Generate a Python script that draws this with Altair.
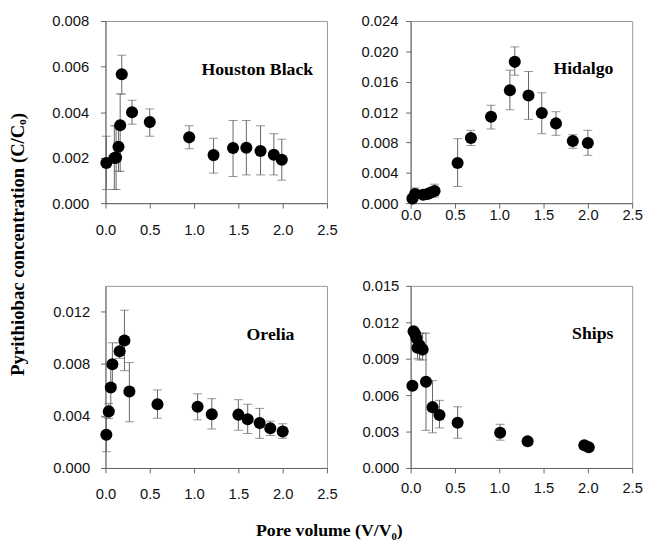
import altair as alt
import pandas as pd

# ---------------- data ----------------
HB_x = [0.01, 0.10, 0.12, 0.147, 0.166, 0.184, 0.30, 0.50, 0.945, 1.22, 1.44, 1.59, 1.75, 1.90, 1.99]
HB_y = [0.00176, 0.00198, 0.00200, 0.00248, 0.00342, 0.00566, 0.00399, 0.00356, 0.00289, 0.00211,
        0.00242, 0.00243, 0.00229, 0.00213, 0.00191]
HB_lo = [0.0006, 0.0006, 0.0006, 0.0014, 0.0014, 0.00479, 0.00347, 0.00294, 0.00239, 0.00132,
         0.00117, 0.00124, 0.00124, 0.00124, 0.00101]
HB_hi = [0.00294, 0.0034, 0.0034, 0.0034, 0.0048, 0.0065, 0.00452, 0.00414, 0.0034, 0.00285,
         0.00363, 0.00363, 0.0034, 0.00305, 0.00281]

HI_x = [0.02, 0.05, 0.14, 0.19, 0.23, 0.27, 0.53, 0.68, 0.907, 1.12, 1.175, 1.33, 1.48, 1.64, 1.83, 2.00]
HI_y = [0.0006, 0.0012, 0.0011, 0.0012, 0.0014, 0.0016, 0.0053, 0.00858, 0.01139, 0.01489, 0.01862,
        0.01419, 0.01187, 0.01051, 0.00819, 0.00793]
HI_lo = [0.0004, 0.0008, 0.0008, 0.0008, 0.0009, 0.0008, 0.0022, 0.0076, 0.00977, 0.01231, 0.01686,
         0.01104, 0.00915, 0.00894, 0.00723, 0.0063]
HI_hi = [0.0010, 0.0020, 0.0016, 0.0018, 0.0020, 0.0025, 0.0085, 0.0096, 0.0129, 0.01752, 0.02059,
         0.01735, 0.01454, 0.01205, 0.00902, 0.0096]

OR_x = [0.01, 0.037, 0.06, 0.078, 0.16, 0.214, 0.27, 0.587, 1.04, 1.20, 1.50, 1.605, 1.74, 1.86, 2.00]
OR_y = [0.00255, 0.00435, 0.00618, 0.00798, 0.00898, 0.0098, 0.00588, 0.0049, 0.0047, 0.00413,
        0.0041, 0.00375, 0.00345, 0.00305, 0.0028]
OR_lo = [0.00125, 0.0038, 0.0045, 0.0064, 0.00843, 0.00748, 0.00355, 0.00383, 0.0037, 0.003,
         0.0029, 0.00265, 0.00228, 0.0025, 0.00228]
OR_hi = [0.0039, 0.00497, 0.0078, 0.00962, 0.00962, 0.01213, 0.0081, 0.006, 0.0057, 0.00533,
         0.00525, 0.0049, 0.00458, 0.0036, 0.0034]

SH_x = [0.02, 0.033, 0.05, 0.065, 0.077, 0.10, 0.135, 0.173, 0.247, 0.325, 0.53, 1.01, 1.32, 1.96, 2.01]
SH_y = [0.00677, 0.01126, 0.01104, 0.0107, 0.0099, 0.0101, 0.00975, 0.0071, 0.00501, 0.00437,
        0.00372, 0.0029, 0.0022, 0.00188, 0.0017]
SH_lo = [None, None, None, None, 0.0090, 0.0089, 0.0089, 0.0031, 0.0029, 0.0033,
         0.00245, 0.00229, None, None, None]
SH_hi = [None, None, None, None, 0.0108, 0.0111, 0.0111, 0.0111, 0.0072, 0.00557,
         0.00504, 0.0036, None, None, None]

SOILS = ["Houston Black", "Hidalgo", "Orelia", "Ships"]
Y_MAX = [0.008, 0.024, 0.014, 0.015]
Y_TICKS = [[0, 0.002, 0.004, 0.006, 0.008],
           [0, 0.004, 0.008, 0.012, 0.016, 0.020, 0.024],
           [0, 0.004, 0.008, 0.012],
           [0, 0.003, 0.006, 0.009, 0.012, 0.015]]
X_TICKS = [0, 0.5, 1.0, 1.5, 2.0, 2.5]
X_TITLE = "Pore volume (V/V\u2080)"
Y_TITLE = "Pyrithiobac concentration (C/C\u2092)"

DATA = [(HB_x, HB_y, HB_lo, HB_hi), (HI_x, HI_y, HI_lo, HI_hi),
        (OR_x, OR_y, OR_lo, OR_hi), (SH_x, SH_y, SH_lo, SH_hi)]

# layout / style (not data)
W, H = 225, 185
LABEL_POS = [(W - 14, 50), (W - 19, 49), (W - 33, 50), (W - 19, 49)]
X_LAB_PAD = [15, 0, 14, 8]
Y_LAB_PAD = [12, 8, 11, 7]

SERIF = "Liberation Serif"
SANS = "Liberation Sans"


def panel(i):
    xs, ys, los, his = DATA[i]
    df = pd.DataFrame({"x": xs, "y": ys, "lo": los, "hi": his})
    base = alt.Chart(df)
    xsc = alt.Scale(domain=[0, 2.5], nice=False, zero=False, padding=0)
    ysc = alt.Scale(domain=[0, Y_MAX[i]], nice=False, padding=0)
    xax = alt.Axis(values=X_TICKS, format=".1f", title=None, labelPadding=X_LAB_PAD[i],
                   labelOverlap=False, labelFlush=False)
    yax = alt.Axis(values=Y_TICKS[i], format=".3f", title=None, labelPadding=Y_LAB_PAD[i],
                   labelOverlap=False, labelFlush=False)
    X = alt.X("x:Q", scale=xsc, axis=xax)

    err = base.transform_filter("isValid(datum.lo)")
    rules = err.mark_rule(color="#666", strokeWidth=1).encode(
        x=X, y=alt.Y("lo:Q", scale=ysc, axis=yax), y2="hi:Q")
    cap_lo = err.mark_tick(color="#666", orient="horizontal", size=9, thickness=1).encode(
        x=X, y=alt.Y("lo:Q", scale=ysc, axis=yax))
    cap_hi = err.mark_tick(color="#666", orient="horizontal", size=9, thickness=1).encode(
        x=X, y=alt.Y("hi:Q", scale=ysc, axis=yax))
    pts = base.mark_point(filled=True, color="black", opacity=1, size=150).encode(
        x=X, y=alt.Y("y:Q", scale=ysc, axis=yax))
    lab = alt.Chart(pd.DataFrame({"t": [SOILS[i]]})).mark_text(
        align="right", baseline="middle", font=SERIF, fontSize=18, fontWeight="bold", color="black"
    ).encode(x=alt.value(LABEL_POS[i][0]), y=alt.value(LABEL_POS[i][1]), text="t:N")
    return alt.layer(rules, cap_lo, cap_hi, pts, lab).properties(width=W, height=H)


grid = alt.concat(
    *[panel(i) for i in range(4)],
    columns=2,
    spacing={"row": 40, "column": 22},
    title=alt.TitleParams(X_TITLE, orient="bottom", anchor="middle", font=SERIF,
                          fontSize=18, fontWeight="bold", color="black", offset=21, dx=-18),
)

chart = alt.hconcat(
    grid,
    title=alt.TitleParams(Y_TITLE, orient="left", anchor="middle", font=SERIF,
                          fontSize=19, fontWeight="bold", color="black", offset=24, dx=33),
).properties(
    padding={"left": 0, "top": 1, "right": 0, "bottom": 0}
).configure_view(
    stroke="#999", strokeWidth=1
).configure_axis(
    grid=False, domainColor="#666", tickColor="#666", tickSize=5,
    labelColor="#111", labelFont=SANS, labelFontSize=15,
    labelOverlap=False, labelFlush=False,
)

chart.save("out.html", embed_options={"renderer": "svg", "actions": False})
